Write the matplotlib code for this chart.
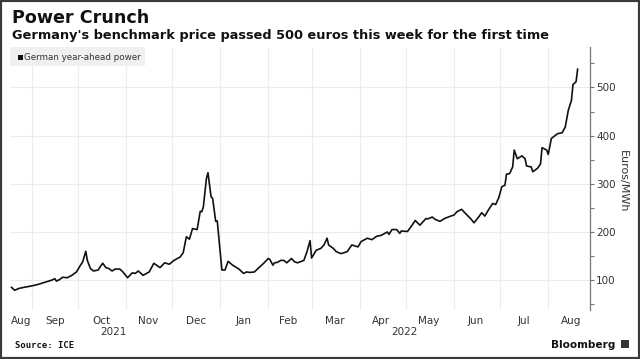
import matplotlib
matplotlib.use('Agg')
import matplotlib.pyplot as plt
import matplotlib.dates as mdates
from matplotlib import ticker
from matplotlib.patches import Rectangle
from matplotlib.transforms import blended_transform_factory
import pandas as pd

# German year-ahead power, Euros/MWh
dates = [
    '2021-08-19', '2021-08-21', '2021-08-24', '2021-08-27', '2021-09-01',
    '2021-09-05', '2021-09-09', '2021-09-14', '2021-09-16', '2021-09-17',
    '2021-09-19', '2021-09-21', '2021-09-24', '2021-09-27', '2021-09-30',
    '2021-10-02', '2021-10-04', '2021-10-06', '2021-10-07', '2021-10-09',
    '2021-10-11', '2021-10-14', '2021-10-16', '2021-10-17', '2021-10-19',
    '2021-10-21', '2021-10-23', '2021-10-25', '2021-10-28', '2021-10-30',
    '2021-11-02', '2021-11-05', '2021-11-07', '2021-11-09', '2021-11-12',
    '2021-11-16', '2021-11-19', '2021-11-23', '2021-11-26', '2021-11-29',
    '2021-12-02', '2021-12-06', '2021-12-08', '2021-12-10', '2021-12-12',
    '2021-12-14', '2021-12-17', '2021-12-19', '2021-12-20', '2021-12-21',
    '2021-12-23', '2021-12-24', '2021-12-26', '2021-12-27', '2021-12-29',
    '2021-12-30', '2022-01-02', '2022-01-04', '2022-01-06', '2022-01-09',
    '2022-01-13', '2022-01-16', '2022-01-18', '2022-01-20', '2022-01-23',
    '2022-01-26', '2022-01-29', '2022-02-01', '2022-02-02', '2022-02-04',
    '2022-02-05', '2022-02-07', '2022-02-09', '2022-02-11', '2022-02-13',
    '2022-02-16', '2022-02-18', '2022-02-20', '2022-02-24', '2022-02-26',
    '2022-02-28', '2022-03-01', '2022-03-04', '2022-03-07', '2022-03-09',
    '2022-03-11', '2022-03-12', '2022-03-15', '2022-03-17', '2022-03-20',
    '2022-03-24', '2022-03-27', '2022-03-31', '2022-04-02', '2022-04-06',
    '2022-04-09', '2022-04-12', '2022-04-15', '2022-04-19', '2022-04-20',
    '2022-04-22', '2022-04-25', '2022-04-27', '2022-04-28', '2022-05-02',
    '2022-05-05', '2022-05-07', '2022-05-10', '2022-05-14', '2022-05-15',
    '2022-05-18', '2022-05-20', '2022-05-23', '2022-05-26', '2022-05-30',
    '2022-06-01', '2022-06-03', '2022-06-06', '2022-06-08', '2022-06-12',
    '2022-06-14', '2022-06-17', '2022-06-19', '2022-06-21', '2022-06-23',
    '2022-06-26', '2022-06-28', '2022-06-30', '2022-07-02', '2022-07-04',
    '2022-07-05', '2022-07-07', '2022-07-09', '2022-07-10', '2022-07-12',
    '2022-07-14', '2022-07-15', '2022-07-17', '2022-07-18', '2022-07-21',
    '2022-07-22', '2022-07-25', '2022-07-27', '2022-07-28', '2022-07-31',
    '2022-08-01', '2022-08-03', '2022-08-05', '2022-08-07', '2022-08-10',
    '2022-08-12', '2022-08-14', '2022-08-16', '2022-08-17', '2022-08-19',
    '2022-08-20',
]
prices = [
    85, 79, 83, 85, 88,
    91, 95, 100, 103, 98,
    101, 106, 105, 110, 117,
    128, 138, 160, 141, 124,
    119, 121, 131, 135, 126,
    124, 119, 123, 123, 117,
    105, 115, 114, 119, 110,
    117, 135, 126, 136, 133,
    141, 148, 157, 190, 185,
    207, 205, 243, 242, 252,
    311, 323, 273, 270, 222,
    223, 121, 121, 139, 131,
    123, 114, 117, 116, 117,
    126, 135, 145, 143, 131,
    136, 137, 141, 141, 136,
    145, 138, 136, 141, 159,
    182, 146, 162, 166, 173,
    187, 173, 166, 159, 155,
    159, 173, 169, 180, 187,
    184, 191, 193, 200, 195,
    205, 205, 197, 202, 201,
    214, 224, 214, 228, 227,
    231, 226, 222, 228, 233,
    235, 242, 247, 240, 227,
    219, 231, 240, 233, 244,
    259, 257, 271, 294, 297,
    320, 321, 335, 370, 352,
    356, 358, 352, 337, 335,
    325, 332, 341, 375, 370,
    361, 394, 399, 404, 406,
    418, 453, 473, 506, 512,
    538,
]

y_ticks = [100, 200, 300, 400, 500]
month_label_dates = ['2021-08-25', '2021-09-16', '2021-10-16', '2021-11-15',
                     '2021-12-16', '2022-01-16', '2022-02-14', '2022-03-16',
                     '2022-04-15', '2022-05-16', '2022-06-15', '2022-07-16',
                     '2022-08-16']
month_labels = ['Aug', 'Sep', 'Oct', 'Nov', 'Dec', 'Jan', 'Feb', 'Mar',
                'Apr', 'May', 'Jun', 'Jul', 'Aug']
year_label_dates = ['2021-10-24', '2022-04-30']
year_labels = ['2021', '2022']

TEXT = '#333333'
GRID = '#ececec'

plt.rcParams['font.family'] = 'DejaVu Sans'

fig = plt.figure(figsize=(6.4, 3.59), dpi=100)
fig.patch.set_facecolor('white')
ax = fig.add_axes([10 / 640, 1 - 310 / 359, 580 / 640, 263 / 359])

ax.plot(pd.to_datetime(dates), prices, color='#111111', linewidth=1.2,
        solid_joinstyle='round', zorder=3)

ax.set_xlim(pd.Timestamp('2021-08-18'), pd.Timestamp('2022-08-28'))
ax.set_ylim(38, 584)

# right-hand value axis
ax.yaxis.tick_right()
ax.yaxis.set_label_position('right')
ax.set_yticks(y_ticks)
ax.yaxis.set_minor_locator(ticker.FixedLocator([50, 150, 250, 350, 450, 550]))
ax.tick_params(axis='y', which='both', length=3, width=0.8, color='#777777',
               pad=1.5, labelsize=7.5, labelcolor=TEXT)
for side in ['left', 'top', 'bottom']:
    ax.spines[side].set_visible(False)
ax.spines['right'].set_color('#777777')
ax.spines['right'].set_linewidth(0.9)

# month boundaries as gridlines, month names centred in each month
ax.xaxis.set_major_locator(mdates.MonthLocator())
ax.xaxis.set_major_formatter(ticker.NullFormatter())
ax.xaxis.set_minor_locator(ticker.FixedLocator(
    mdates.date2num(pd.to_datetime(month_label_dates))))
ax.xaxis.set_minor_formatter(ticker.FixedFormatter(month_labels))
ax.tick_params(axis='x', which='both', length=0, pad=4, labelsize=7.5,
               labelcolor=TEXT)
ax.grid(True, which='major', color=GRID, linewidth=0.8)
ax.set_axisbelow(True)

trans = blended_transform_factory(ax.transData, ax.transAxes)
for d, lab in zip(year_label_dates, year_labels):
    ax.text(pd.Timestamp(d), -0.085, lab, transform=trans, ha='center',
            va='center', fontsize=7.5, color=TEXT)

fig.text(623 / 640, 1 - 181 / 359, 'Euros/MWh', rotation=270, ha='center',
         va='center', fontsize=8, color=TEXT)

# titles
fig.text(12 / 640, 1 - 18 / 359, 'Power Crunch', fontsize=12.6,
         fontweight='bold', color='#111111', va='center')
fig.text(12 / 640, 1 - 36 / 359,
         "Germany's benchmark price passed 500 euros this week for the first time",
         fontsize=9.3, fontweight='bold', color='#111111', va='center')

# legend chip
fig.add_artist(Rectangle((10 / 640, 1 - 66 / 359), 135 / 640, 19 / 359,
                         transform=fig.transFigure, facecolor='#f0f0f0',
                         edgecolor='none'))
fig.add_artist(Rectangle((18 / 640, 1 - 60 / 359), 5 / 640, 5 / 359,
                         transform=fig.transFigure, facecolor='#111111',
                         edgecolor='none'))
fig.text(24.5 / 640, 1 - 57.5 / 359, 'German year-ahead power', fontsize=6.3,
         color=TEXT, va='center')

# footer
fig.text(15 / 640, 1 - 346 / 359, 'Source: ICE', fontsize=6.4,
         fontweight='bold', family='DejaVu Sans Mono', color='#111111',
         va='center')
fig.text(615 / 640, 1 - 345 / 359, 'Bloomberg', fontsize=7.6,
         fontweight='bold', color='#111111', va='center', ha='right')
fig.add_artist(Rectangle((621 / 640, 1 - 348 / 359), 8 / 640, 8 / 359,
                         transform=fig.transFigure, facecolor='#333333',
                         edgecolor='none'))

# outer frame
fig.add_artist(Rectangle((0, 0), 1, 1, transform=fig.transFigure,
                         fill=False, edgecolor='#3a3a3a', linewidth=3))

fig.savefig('out.png', dpi=100)
